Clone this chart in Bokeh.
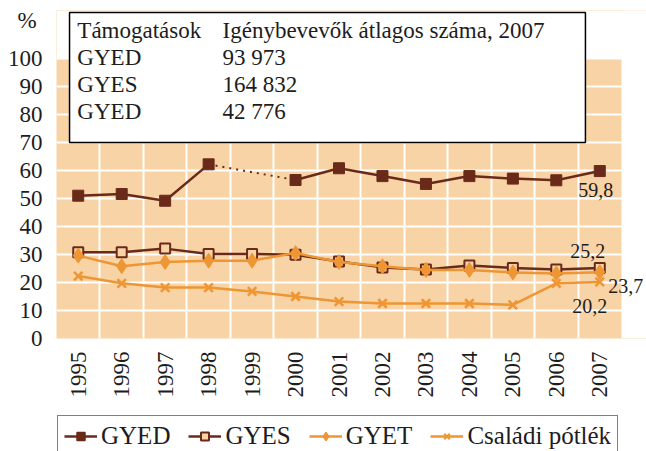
import math
from bokeh.plotting import figure
from bokeh.layouts import column
from bokeh.models import Range1d, FixedTicker, Label, BoxAnnotation, Legend, LegendItem
from bokeh.embed import file_html
from bokeh.resources import INLINE

nan = float("nan")

years = [1995, 1996, 1997, 1998, 1999, 2000, 2001, 2002, 2003, 2004, 2005, 2006, 2007]
gyed = [51.0, 51.6, 49.2, 62.2, nan, 56.6, 60.8, 58.0, 55.2, 58.0, 57.1, 56.5, 59.8]
gyes = [30.8, 30.8, 32.1, 30.2, 30.2, 29.9, 27.5, 25.4, 24.6, 26.1, 25.2, 24.6, 25.2]
gyet = [29.6, 25.8, 27.3, 27.8, 27.8, 30.5, 27.3, 25.8, 24.5, 24.5, 23.6, 23.2, 23.7]
csp = [22.3, 19.7, 18.2, 18.2, 16.8, 15.0, 13.2, 12.5, 12.5, 12.5, 12.0, 19.7, 20.2]
series_names = ["GYED", "GYES", "GYET", "Családi pótlék"]
yticks = [0, 10, 20, 30, 40, 50, 60, 70, 80, 90, 100]
unit_label = "%"

table_header = ["Támogatások", "Igénybevevők átlagos száma, 2007"]
table_names = ["GYED", "GYES", "GYED"]
table_values = ["93 973", "164 832", "42 776"]

FONT = "Liberation Serif"
TXT = "#1e1c1c"
PEACH = "#F8D3A6"
BROWN = "#6A2A1A"
ORANGE = "#EE9633"

x0, x1 = years[0] - 0.5, years[-1] + 0.5
ymax = yticks[-1]
p = figure(width=646, height=414, output_backend="svg", toolbar_location=None,
           x_range=Range1d(x0, x1 + 0.575), y_range=Range1d(0, ymax * 1.1714),
           min_border_left=56, min_border_right=0, min_border_top=10, min_border_bottom=76)
p.background_fill_color = PEACH
p.border_fill_color = "white"
p.outline_line_color = None

# white areas outside the plotting area (above 100 and right of last year)
p.add_layout(BoxAnnotation(bottom=ymax, fill_color="white", fill_alpha=1, line_alpha=0, level="underlay"))
p.add_layout(BoxAnnotation(left=x1, fill_color="white", fill_alpha=1, line_alpha=0, level="underlay"))

p.xaxis.ticker = FixedTicker(ticks=years)
p.xaxis.major_label_orientation = math.pi / 2
pct_pos = ymax * 1.136
p.yaxis.ticker = FixedTicker(ticks=yticks + [pct_pos])
p.yaxis.major_label_overrides = {pct_pos: unit_label + "\u00a0"}
for ax in (p.xaxis, p.yaxis):
    ax.axis_line_color = None
    ax.major_tick_line_color = None
    ax.minor_tick_line_color = None
    ax.major_label_text_font = FONT
    ax.major_label_text_font_size = "23px"
    ax.major_label_text_color = TXT
p.xaxis.major_label_standoff = 7
p.yaxis.major_label_standoff = 8

p.xgrid.ticker = FixedTicker(ticks=[y + 0.5 for y in years[:-1]])
p.ygrid.ticker = FixedTicker(ticks=yticks)
for g in (p.xgrid, p.ygrid):
    g.grid_line_color = "white"
    g.grid_line_width = 2

# GYED with gap and dotted bridge
l1 = p.line(years, gyed, line_color=BROWN, line_width=2.5)
gap = [i for i, v in enumerate(gyed) if math.isnan(v)]
for i in gap:
    p.line([years[i - 1], years[i + 1]], [gyed[i - 1], gyed[i + 1]], line_color=BROWN,
           line_width=2, line_dash="2 5")
s1 = p.scatter(years, gyed, marker="square", size=11, fill_color=BROWN, line_color=BROWN)

l2 = p.line(years, gyes, line_color=BROWN, line_width=2.5)
s2 = p.scatter(years, gyes, marker="square", size=10, fill_color=PEACH, line_color=BROWN, line_width=2)

l3 = p.line(years, gyet, line_color=ORANGE, line_width=2.5)
s3 = p.scatter(years, gyet, marker="diamond", size=15, fill_color=ORANGE, line_color=ORANGE)

l4 = p.line(years, csp, line_color=ORANGE, line_width=2.5)
s4 = p.scatter(years, csp, marker="x", size=12, line_color=ORANGE, line_width=2.5)

def fmt(v):
    return f"{v:.1f}".replace(".", ",")

end_offsets = [(-4, -19), (-12, 17), (26, -14), (-10, -24)]
for vals, (dx, dy) in zip([gyed, gyes, gyet, csp], end_offsets):
    p.add_layout(Label(x=years[-1], y=vals[-1], x_offset=dx, y_offset=dy, text=fmt(vals[-1]),
                       text_align="center", text_baseline="middle", text_font=FONT,
                       text_font_size="20px", text_color=TXT))

# table box
p.add_layout(BoxAnnotation(left=1994.8, right=2006.67, bottom=70.0, top=116.4,
                           fill_color="white", fill_alpha=1, line_color="black",
                           line_width=1.5, line_alpha=1))
row_y = [110.0, 100.5, 90.8, 81.2]
rows = [table_header] + [[n, v] for n, v in zip(table_names, table_values)]
for (c1, c2), yy in zip(rows, row_y):
    for xx, t in ((1994.98, c1), (1998.32, c2)):
        p.add_layout(Label(x=xx, y=yy, text=t, text_align="left", text_baseline="middle",
                           text_font=FONT, text_font_size="23px", text_color=TXT))

# legend strip below the chart
q = figure(width=646, height=37, output_backend="svg", toolbar_location=None,
           x_range=Range1d(0, 1), y_range=Range1d(0, 1),
           x_axis_location=None, y_axis_location=None,
           min_border_left=55, min_border_right=0, min_border_top=0, min_border_bottom=0)
q.grid.visible = False
q.outline_line_color = None
q.background_fill_color = "white"
q.border_fill_color = "white"
styles = [
    dict(line=BROWN, marker="square", size=9, fill=BROWN, lw=1.5),
    dict(line=BROWN, marker="square", size=8, fill=PEACH, lw=2),
    dict(line=ORANGE, marker="diamond", size=11, fill=ORANGE, lw=1.5),
    dict(line=ORANGE, marker="x", size=9, fill=ORANGE, lw=2),
]
items = []
for name, st in zip(series_names, styles):
    ll = q.line([nan], [nan], line_color=st["line"], line_width=2.5)
    ss = q.scatter([nan], [nan], marker=st["marker"], size=st["size"], fill_color=st["fill"],
                   line_color=st["line"], line_width=st["lw"])
    items.append(LegendItem(label=name, renderers=[ll, ss]))
legend = Legend(items=items, orientation="horizontal", location="top_left")
legend.label_text_font = FONT
legend.label_text_font_size = "25px"
legend.label_text_color = TXT
legend.glyph_width = 33
legend.glyph_height = 20
legend.label_standoff = 4
legend.spacing = 18
legend.padding = 6
legend.margin = 1
legend.border_line_color = "black"
legend.border_line_width = 1.5
legend.background_fill_color = "white"
legend.background_fill_alpha = 1
q.add_layout(legend)

lay = column(p, q, spacing=0)
open("out.html", "w").write(file_html(lay, INLINE))
